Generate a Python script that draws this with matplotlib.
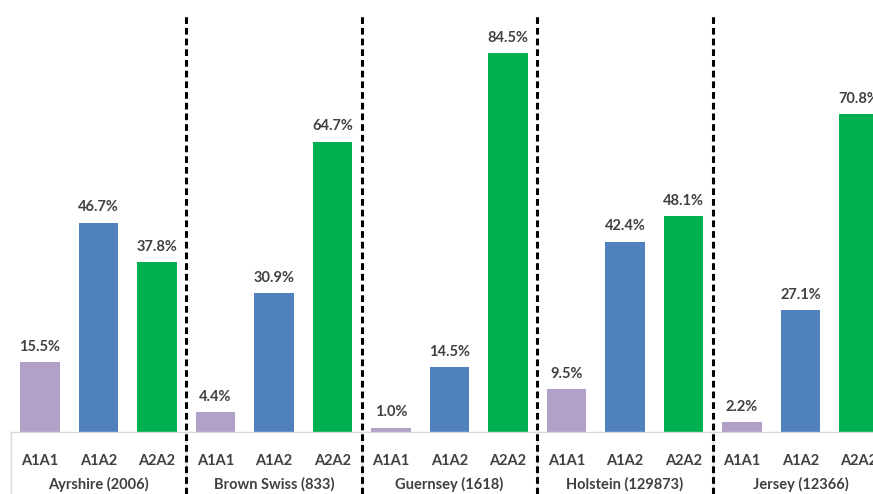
import numpy as np
import matplotlib
matplotlib.use("Agg")
from matplotlib import pyplot as plt

breeds = ["Ayrshire (2006)", "Brown Swiss (833)", "Guernsey (1618)",
          "Holstein (129873)", "Jersey (12366)"]
genotypes = ["A1A1", "A1A2", "A2A2"]
a1a1 = [15.5, 4.4, 1.0, 9.5, 2.2]
a1a2 = [46.7, 30.9, 14.5, 42.4, 27.1]
a2a2 = [37.8, 64.7, 84.5, 48.1, 70.8]
colors = ["#B1A0C7", "#4F81BD", "#00B050"]

plt.rcParams['font.family'] = ['Lato', 'DejaVu Sans']
txt = "#404040"

fig = plt.figure(figsize=(8.73, 4.94), dpi=100)
ax = fig.add_axes([0, 62/494, 1, (432-13)/494])

series = [a1a1, a1a2, a2a2]
for j, vals in enumerate(series):
    xs = np.arange(len(breeds))*3 + j
    bars = ax.bar(xs, vals, width=0.67, color=colors[j])
    for x, v in zip(xs, vals):
        ax.annotate(f"{v:.1f}%", (x, v), xytext=(0, 6), textcoords="offset points",
                    ha="center", va="bottom", fontsize=10.5, fontweight="bold", color=txt)

ax.set_xlim(-40/58.5, (873-40)/58.5)
ax.set_ylim(0, (432-13)/4.486)
ax.axis("off")

# axis line and label grid
ax.plot([-0.5, 15], [0, 0], color="#D9D9D9", lw=1, clip_on=False)
for k in range(len(breeds)+1):
    xb = k*3 - 0.5
    ax.plot([xb, xb], [0, -62/4.486], color="#D9D9D9", lw=1, clip_on=False)
for k in range(1, len(breeds)):
    xb = k*3 - 0.5
    ax.plot([xb, xb], [-62/4.486, (432-13)/4.486], color="black", lw=2.2,
            ls=(0, (2.2, 1.3)), clip_on=False)

for i, b in enumerate(breeds):
    for j, g in enumerate(genotypes):
        ax.text(i*3 + j, -29/4.486, g, ha="center", va="center", fontsize=10.5,
                fontweight="bold", color=txt)
    ax.text(i*3 + 1, -52/4.486, b, ha="center", va="center", fontsize=10.5,
            fontweight="bold", color=txt)

fig.savefig("out.png", dpi=100)
